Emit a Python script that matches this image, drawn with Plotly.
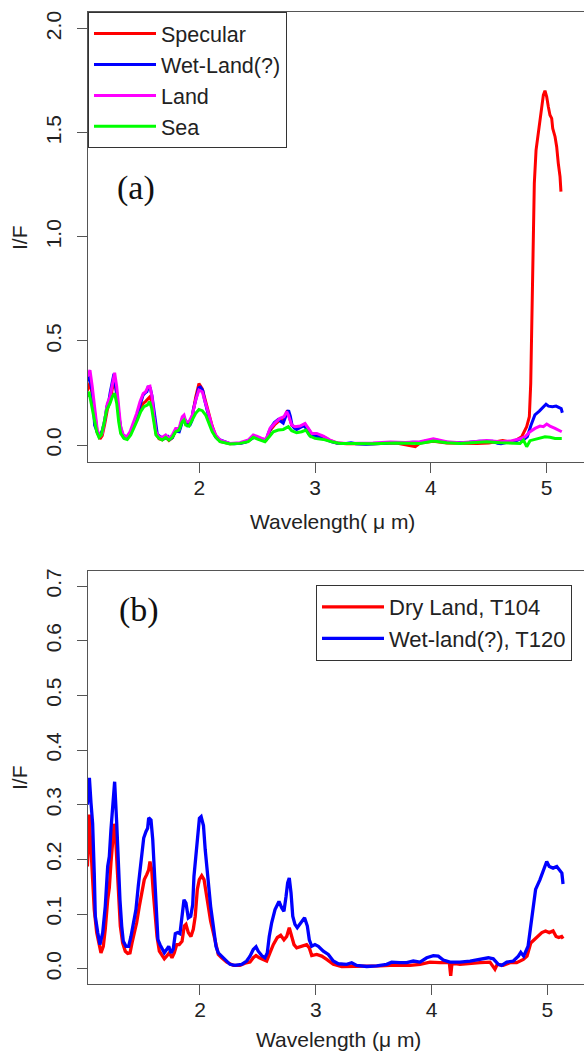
import plotly.graph_objects as go

# ---------------- data ----------------
# Panel (a)
wl_spec = [1.033, 1.056, 1.076, 1.097, 1.119, 1.143, 1.162, 1.183, 1.206, 1.229,
           1.249, 1.269, 1.287, 1.304, 1.321, 1.344, 1.373, 1.402, 1.430, 1.459,
           1.488, 1.516, 1.537, 1.557, 1.574, 1.592, 1.609, 1.626, 1.652, 1.680,
           1.710, 1.738, 1.767, 1.796, 1.825, 1.853, 1.868, 1.883, 1.911, 1.940,
           1.969, 1.997, 2.026, 2.055, 2.084, 2.112, 2.142, 2.179, 2.265, 2.351,
           2.423, 2.466, 2.496, 2.539, 2.576, 2.611, 2.654, 2.697, 2.731, 2.755,
           2.769, 2.798, 2.826, 2.870, 2.913, 2.941, 2.971, 3.014, 3.071, 3.129,
           3.187, 3.273, 3.359, 3.500, 3.700, 3.865, 3.906, 4.021, 4.136, 4.250,
           4.400, 4.500, 4.620, 4.700, 4.784, 4.827, 4.850, 4.862, 4.870, 4.876,
           4.884, 4.893, 4.908, 4.927, 4.957, 4.971, 4.985, 5.000, 5.014, 5.028,
           5.043, 5.052, 5.072, 5.086, 5.100, 5.115, 5.123]
if_spec = [0.26, 0.30, 0.24, 0.14, 0.06, 0.030, 0.045, 0.10, 0.17, 0.21,
           0.27, 0.31, 0.25, 0.15, 0.075, 0.038, 0.032, 0.055, 0.090, 0.135,
           0.175, 0.200, 0.210, 0.222, 0.232, 0.200, 0.120, 0.055, 0.030, 0.025,
           0.038, 0.022, 0.035, 0.068, 0.070, 0.125, 0.135, 0.100, 0.098, 0.140,
           0.230, 0.295, 0.270, 0.210, 0.150, 0.090, 0.045, 0.018, 0.006, 0.008,
           0.020, 0.042, 0.038, 0.028, 0.022, 0.070, 0.100, 0.120, 0.125, 0.158,
           0.150, 0.095, 0.085, 0.088, 0.098, 0.078, 0.052, 0.050, 0.040, 0.022,
           0.010, 0.006, 0.006, 0.006, 0.010, -0.008, 0.010, 0.018, 0.010, 0.008,
           0.008, 0.010, 0.022, 0.012, 0.040, 0.088, 0.136, 0.296, 0.536, 0.856,
           1.097, 1.257, 1.417, 1.497, 1.625, 1.681, 1.702, 1.673, 1.625, 1.585,
           1.569, 1.521, 1.481, 1.433, 1.353, 1.289, 1.217]

# Wet-land spectrum (same in both panels)
wl_wet = [1.028, 1.045, 1.059, 1.073, 1.087, 1.096, 1.117, 1.136, 1.160, 1.182,
          1.203, 1.217, 1.231, 1.246, 1.263, 1.281, 1.294, 1.309, 1.324, 1.338,
          1.361, 1.384, 1.404, 1.424, 1.447, 1.467, 1.491, 1.514, 1.534, 1.548,
          1.557, 1.577, 1.592, 1.605, 1.620, 1.637, 1.655, 1.672, 1.692, 1.712,
          1.730, 1.750, 1.769, 1.787, 1.807, 1.827, 1.845, 1.862, 1.879, 1.899,
          1.920, 1.937, 1.948, 1.965, 1.980, 1.995, 2.010, 2.030, 2.045, 2.072,
          2.092, 2.115, 2.138, 2.158, 2.187, 2.216, 2.259, 2.302, 2.360, 2.403,
          2.432, 2.460, 2.484, 2.503, 2.533, 2.561, 2.581, 2.598, 2.619, 2.648,
          2.682, 2.706, 2.725, 2.743, 2.757, 2.771, 2.786, 2.801, 2.820, 2.840,
          2.864, 2.887, 2.903, 2.927, 2.944, 2.965, 2.993, 3.022, 3.065, 3.108,
          3.151, 3.194, 3.267, 3.310, 3.353, 3.440, 3.526, 3.612, 3.655, 3.727,
          3.785, 3.842, 3.900, 3.958, 4.015, 4.058, 4.101, 4.159, 4.245, 4.332,
          4.418, 4.490, 4.533, 4.576, 4.605, 4.649, 4.706, 4.749, 4.770, 4.795,
          4.833, 4.865, 4.898, 4.936, 4.969, 4.994, 5.016, 5.049, 5.081, 5.107,
          5.125, 5.135]
if_wet = [0.300, 0.349, 0.303, 0.266, 0.175, 0.096, 0.066, 0.044, 0.066, 0.114,
          0.187, 0.205, 0.254, 0.303, 0.342, 0.266, 0.193, 0.126, 0.078, 0.050,
          0.041, 0.041, 0.059, 0.084, 0.108, 0.151, 0.193, 0.239, 0.251, 0.257,
          0.276, 0.272, 0.236, 0.175, 0.114, 0.053, 0.044, 0.038, 0.029, 0.035,
          0.041, 0.029, 0.036, 0.064, 0.066, 0.064, 0.096, 0.126, 0.120, 0.093,
          0.096, 0.117, 0.169, 0.205, 0.250, 0.275, 0.278, 0.262, 0.218, 0.157,
          0.114, 0.078, 0.041, 0.029, 0.023, 0.016, 0.008, 0.006, 0.008, 0.014,
          0.023, 0.035, 0.040, 0.032, 0.024, 0.020, 0.029, 0.059, 0.084, 0.108,
          0.123, 0.111, 0.105, 0.132, 0.157, 0.166, 0.139, 0.096, 0.081, 0.075,
          0.081, 0.087, 0.093, 0.078, 0.053, 0.041, 0.044, 0.041, 0.032, 0.026,
          0.014, 0.009, 0.008, 0.011, 0.006, 0.004, 0.005, 0.008, 0.012, 0.011,
          0.011, 0.014, 0.012, 0.020, 0.024, 0.023, 0.016, 0.012, 0.012, 0.014,
          0.018, 0.020, 0.018, 0.008, 0.006, 0.012, 0.014, 0.023, 0.030, 0.023,
          0.041, 0.096, 0.145, 0.163, 0.181, 0.196, 0.187, 0.184, 0.187, 0.181,
          0.175, 0.155]

wl_land = [1.033, 1.056, 1.076, 1.097, 1.119, 1.143, 1.162, 1.183, 1.206, 1.229,
           1.249, 1.269, 1.287, 1.304, 1.321, 1.344, 1.373, 1.402, 1.430, 1.459,
           1.488, 1.516, 1.537, 1.557, 1.574, 1.592, 1.609, 1.626, 1.652, 1.680,
           1.710, 1.738, 1.767, 1.796, 1.825, 1.853, 1.868, 1.883, 1.911, 1.940,
           1.969, 1.997, 2.026, 2.055, 2.084, 2.112, 2.142, 2.179, 2.265, 2.351,
           2.423, 2.466, 2.496, 2.539, 2.576, 2.611, 2.654, 2.697, 2.731, 2.755,
           2.769, 2.798, 2.826, 2.870, 2.913, 2.941, 2.971, 3.014, 3.071, 3.129,
           3.187, 3.273, 3.359, 3.500, 3.650, 3.780, 3.906, 4.021, 4.136, 4.251,
           4.366, 4.482, 4.597, 4.683, 4.770, 4.813, 4.856, 4.899, 4.942, 4.971,
           5.000, 5.028, 5.072, 5.100, 5.130]
if_land = [0.330, 0.360, 0.280, 0.168, 0.072, 0.040, 0.056, 0.120, 0.200, 0.232,
           0.296, 0.347, 0.280, 0.168, 0.088, 0.048, 0.040, 0.064, 0.104, 0.152,
           0.208, 0.248, 0.256, 0.280, 0.283, 0.232, 0.136, 0.064, 0.040, 0.037,
           0.048, 0.032, 0.048, 0.080, 0.080, 0.136, 0.144, 0.112, 0.112, 0.144,
           0.216, 0.264, 0.256, 0.200, 0.144, 0.088, 0.048, 0.024, 0.008, 0.011,
           0.024, 0.048, 0.043, 0.032, 0.027, 0.080, 0.107, 0.128, 0.136, 0.160,
           0.144, 0.096, 0.088, 0.091, 0.104, 0.080, 0.056, 0.056, 0.043, 0.024,
           0.011, 0.008, 0.008, 0.010, 0.015, 0.012, 0.016, 0.030, 0.016, 0.011,
           0.016, 0.022, 0.016, 0.019, 0.030, 0.040, 0.064, 0.080, 0.091, 0.088,
           0.101, 0.091, 0.080, 0.072, 0.064]

wl_sea = [1.033, 1.047, 1.067, 1.091, 1.114, 1.134, 1.154, 1.177, 1.200, 1.229,
          1.249, 1.269, 1.287, 1.304, 1.321, 1.350, 1.378, 1.408, 1.436, 1.465,
          1.494, 1.522, 1.551, 1.572, 1.589, 1.609, 1.626, 1.652, 1.680, 1.710,
          1.738, 1.767, 1.796, 1.825, 1.853, 1.868, 1.883, 1.911, 1.940, 1.969,
          1.997, 2.026, 2.055, 2.084, 2.112, 2.142, 2.179, 2.265, 2.351, 2.423,
          2.466, 2.509, 2.567, 2.604, 2.639, 2.682, 2.725, 2.769, 2.798, 2.841,
          2.884, 2.921, 2.956, 2.999, 3.071, 3.143, 3.215, 3.330, 3.500, 3.700,
          3.906, 4.021, 4.136, 4.251, 4.366, 4.482, 4.597, 4.683, 4.770, 4.799,
          4.827, 4.856, 4.899, 4.942, 4.985, 5.028, 5.072, 5.130]
if_sea = [0.232, 0.256, 0.200, 0.120, 0.064, 0.037, 0.048, 0.104, 0.168, 0.200,
          0.232, 0.248, 0.200, 0.112, 0.056, 0.032, 0.027, 0.048, 0.080, 0.120,
          0.160, 0.184, 0.192, 0.208, 0.176, 0.104, 0.048, 0.032, 0.024, 0.037,
          0.024, 0.037, 0.064, 0.072, 0.112, 0.120, 0.096, 0.091, 0.120, 0.152,
          0.171, 0.165, 0.144, 0.104, 0.064, 0.037, 0.016, 0.005, 0.008, 0.016,
          0.037, 0.027, 0.016, 0.040, 0.064, 0.072, 0.075, 0.088, 0.069, 0.059,
          0.064, 0.072, 0.043, 0.032, 0.027, 0.016, 0.008, 0.008, 0.006, 0.010,
          0.008, 0.019, 0.011, 0.008, 0.011, 0.016, 0.011, 0.008, 0.008, 0.024,
          -0.008, 0.021, 0.027, 0.032, 0.040, 0.037, 0.032, 0.032]

# Panel (b): dry land
wl_dry = [1.028, 1.045, 1.050, 1.067, 1.087, 1.108, 1.130, 1.145, 1.165, 1.182,
          1.203, 1.217, 1.231, 1.246, 1.259, 1.268, 1.283, 1.298, 1.312, 1.332,
          1.355, 1.376, 1.396, 1.413, 1.433, 1.453, 1.476, 1.499, 1.519, 1.540,
          1.557, 1.568, 1.583, 1.597, 1.611, 1.629, 1.649, 1.672, 1.692, 1.712,
          1.735, 1.758, 1.778, 1.799, 1.821, 1.845, 1.864, 1.879, 1.899, 1.922,
          1.942, 1.959, 1.977, 1.994, 2.015, 2.035, 2.052, 2.072, 2.092, 2.115,
          2.138, 2.158, 2.187, 2.231, 2.288, 2.345, 2.389, 2.432, 2.460, 2.484,
          2.512, 2.547, 2.576, 2.604, 2.633, 2.668, 2.697, 2.725, 2.749, 2.771,
          2.792, 2.812, 2.835, 2.864, 2.898, 2.921, 2.944, 2.965, 3.008, 3.051,
          3.094, 3.151, 3.224, 3.324, 3.440, 3.554, 3.641, 3.727, 3.813, 3.900,
          3.986, 4.073, 4.153, 4.165, 4.176, 4.245, 4.332, 4.418, 4.504, 4.547,
          4.567, 4.619, 4.677, 4.735, 4.792, 4.824, 4.856, 4.889, 4.921, 4.952,
          4.984, 5.016, 5.049, 5.075, 5.098, 5.123, 5.135]
if_dry = [0.187, 0.282, 0.254, 0.187, 0.108, 0.066, 0.041, 0.029, 0.041, 0.072,
          0.126, 0.148, 0.193, 0.242, 0.265, 0.254, 0.193, 0.126, 0.078, 0.047,
          0.032, 0.028, 0.029, 0.047, 0.066, 0.084, 0.114, 0.145, 0.163, 0.172,
          0.181, 0.196, 0.181, 0.139, 0.096, 0.059, 0.032, 0.023, 0.018, 0.023,
          0.029, 0.020, 0.029, 0.044, 0.044, 0.050, 0.078, 0.081, 0.066, 0.059,
          0.072, 0.096, 0.145, 0.163, 0.170, 0.163, 0.139, 0.111, 0.087, 0.066,
          0.041, 0.026, 0.020, 0.012, 0.006, 0.006, 0.010, 0.012, 0.020, 0.024,
          0.020, 0.017, 0.014, 0.029, 0.044, 0.057, 0.061, 0.053, 0.059, 0.075,
          0.059, 0.044, 0.038, 0.040, 0.041, 0.044, 0.038, 0.024, 0.026, 0.023,
          0.017, 0.008, 0.004, 0.004, 0.004, 0.005, 0.006, 0.006, 0.006, 0.008,
          0.012, 0.011, 0.011, -0.013, 0.010, 0.008, 0.010, 0.011, 0.012, -0.001,
          0.008, 0.006, 0.011, 0.011, 0.017, 0.023, 0.047, 0.053, 0.059, 0.066,
          0.069, 0.066, 0.069, 0.059, 0.057, 0.059, 0.055]

xtick_vals = [2, 3, 4, 5]
ya_ticks = [0.0, 0.5, 1.0, 1.5, 2.0]
ya_text = ["0.0", "0.5", "1.0", "1.5", "2.0"]
yb_ticks = [0.0, 0.1, 0.2, 0.3, 0.4, 0.5, 0.6, 0.7]
yb_text = ["0.0", "0.1", "0.2", "0.3", "0.4", "0.5", "0.6", "0.7"]

# ---------------- figure ----------------
SANS = "Liberation Sans, Arial, Helvetica, sans-serif"
SERIF = "Liberation Serif, Times New Roman, serif"
AX = "#555555"
TXT = "#222222"

fig = go.Figure()
lw_a = 3.0
lw_b = 3.3
fig.add_trace(go.Scatter(x=wl_spec, y=if_spec, mode="lines", name="Specular",
                         line=dict(color="#ff0000", width=lw_a), xaxis="x", yaxis="y", legend="legend"))
fig.add_trace(go.Scatter(x=wl_wet, y=if_wet, mode="lines", name="Wet-Land(?)",
                         line=dict(color="#0000ff", width=lw_a), xaxis="x", yaxis="y", legend="legend"))
fig.add_trace(go.Scatter(x=wl_land, y=if_land, mode="lines", name="Land",
                         line=dict(color="#ff00ff", width=lw_a), xaxis="x", yaxis="y", legend="legend"))
fig.add_trace(go.Scatter(x=wl_sea, y=if_sea, mode="lines", name="Sea",
                         line=dict(color="#00ff00", width=lw_a), xaxis="x", yaxis="y", legend="legend"))
fig.add_trace(go.Scatter(x=wl_dry, y=if_dry, mode="lines", name="Dry Land, T104",
                         line=dict(color="#ff0000", width=lw_b), xaxis="x2", yaxis="y2", legend="legend2"))
fig.add_trace(go.Scatter(x=wl_wet, y=if_wet, mode="lines", name="Wet-land(?), T120",
                         line=dict(color="#0000ff", width=lw_b), xaxis="x2", yaxis="y2", legend="legend2"))

W, H = 584, 1053
ML, MR, MT, MB = 88, 0, 12, 69
PH = H - MT - MB
PW = W - ML - MR


def px(x):
    return (x - ML) / PW


def py(y):
    return 1 - (y - MT) / PH


axis_common = dict(showline=True, linecolor=AX, linewidth=1, ticks="outside", ticklen=10,
                   tickcolor=AX, tickwidth=1, showgrid=False, zeroline=False,
                   tickfont=dict(family=SANS, size=21, color=TXT))

fig.update_layout(
    width=W, height=H,
    margin=dict(l=ML, r=MR, t=MT, b=MB),
    paper_bgcolor="white", plot_bgcolor="white",
    showlegend=True,
    xaxis=dict(domain=[0, 1], anchor="y", range=[1.039, 5.322], tickvals=xtick_vals,
               mirror=True, ticklabelstandoff=-3, **axis_common),
    yaxis=dict(domain=[py(461.7), 1], anchor="x", range=[-0.08, 2.08], tickvals=ya_ticks,
               ticktext=ya_text, tickangle=-90, ticklabelstandoff=8, **axis_common),
    xaxis2=dict(domain=[0, 1], anchor="y2", range=[1.033, 5.316], tickvals=xtick_vals,
                mirror=True, ticklabelstandoff=-3, **axis_common),
    yaxis2=dict(domain=[0, py(570.7)], anchor="x2", range=[-0.028, 0.728], tickvals=yb_ticks,
                ticktext=yb_text, tickangle=-90, ticklabelstandoff=8, **axis_common),
    legend=dict(x=0, y=1, xanchor="left", yanchor="top", bgcolor="white",
                bordercolor="#333333", borderwidth=1, itemwidth=62,
                font=dict(family=SANS, size=21.5, color=TXT)),
    legend2=dict(x=px(316), y=py(585), xanchor="left", yanchor="top", bgcolor="white",
                 bordercolor="#333333", borderwidth=1, itemwidth=62,
                 font=dict(family=SANS, size=22, color=TXT)),
)

annots = [
    dict(text="(a)", x=px(136), y=py(187.5), font=dict(family=SERIF, size=34, color="#111")),
    dict(text="(b)", x=px(139), y=py(610), font=dict(family=SERIF, size=34, color="#111")),
    dict(text="I/F", x=px(19), y=py(238), textangle=-90, font=dict(family=SANS, size=21, color=TXT)),
    dict(text="I/F", x=px(19), y=py(778), textangle=-90, font=dict(family=SANS, size=21, color=TXT)),
    dict(text="Wavelength( \u03bc m)", x=px(332), y=py(521), font=dict(family=SANS, size=21, color=TXT)),
    dict(text="Wavelength (\u03bc m)", x=px(338), y=py(1039), font=dict(family=SANS, size=21, color=TXT)),
]
for a in annots:
    a.update(xref="paper", yref="paper", showarrow=False, xanchor="center", yanchor="middle")
    fig.add_annotation(**a)

fig.write_html("out.html", config={"displayModeBar": False},
               post_script="document.body.style.margin='0';")
